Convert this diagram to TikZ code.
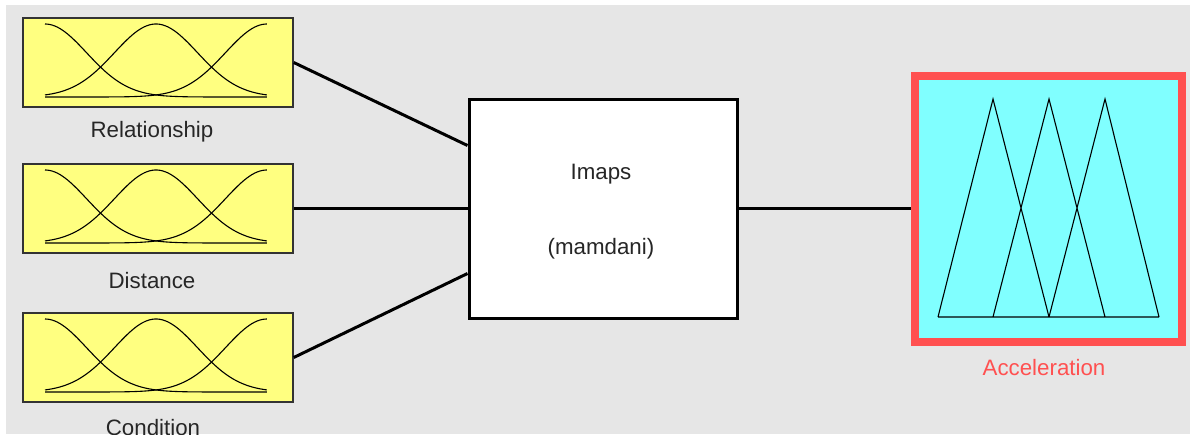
\documentclass[tikz,border=0pt]{standalone}
\usepackage{fontspec}
\setmainfont{Liberation Sans}
\definecolor{bgray}{HTML}{E6E6E6}
\definecolor{mfyellow}{HTML}{FFFF80}
\definecolor{mfcyan}{HTML}{80FFFF}
\definecolor{mfred}{HTML}{FF5050}
\newcommand\gaussmfs[1]{%
  \foreach \c in {0,0.5,1}
    \draw[mfline] plot[domain=0:1,samples=90,smooth]
      ({45+222*\x},{#1+79-73*exp(-((\x-\c)*(\x-\c))/0.0701)});%
}
\begin{document}
\begin{tikzpicture}[x=1pt,y=-1pt,
  inbox/.style={draw=black!80, line width=1.5pt, fill=mfyellow,
    minimum width=270pt, minimum height=89pt, inner sep=0pt},
  fisbox/.style={draw=black, line width=3pt, fill=white,
    minimum width=268pt, minimum height=219pt, inner sep=0pt},
  outbox/.style={draw=mfred, line width=8pt, fill=mfcyan,
    minimum width=267pt, minimum height=266pt, inner sep=0pt},
  mfline/.style={black, line width=1.1pt},
  conn/.style={black, line width=3pt},
  lbl/.style={font=\fontsize{22.3}{26}\selectfont, inner sep=0pt, anchor=base, text=black!85}]
  \useasboundingbox (0,0) rectangle (1190,434);
  \fill[white] (0,0) rectangle (1190,434);
  \fill[bgray] (6,5) rectangle (1190,434);

  % input boxes
  \node[inbox] (rel)  at (158,62.5)  {};
  \node[inbox] (dist) at (158,208.5) {};
  \node[inbox] (cond) at (158,357.5) {};
  \gaussmfs{18}
  \gaussmfs{164}
  \gaussmfs{313}
  \node[lbl] (lrel)  at (152,137) {Relationship};
  \node[lbl] (ldist) at (152,288) {Distance};
  \node[lbl] (lcond) at (153,435) {Condition};

  % FIS box
  \node[fisbox] (imaps) at (603,208.5) {};
  \node[lbl] (fisname) at (601,179) {Imaps};
  \node[lbl] (fistype) at (601,254) {(mamdani)};

  % output box
  \node[outbox] (acc) at (1048.5,208.5) {};
  \draw[mfline] (938,317) -- (993,99) -- (1049,317)
                (993,317) -- (1049,99) -- (1105,317)
                (1049,317) -- (1105,99) -- (1159,317)
                (938,317) -- (1159,317);
  \node[lbl, text=mfred] (lacc) at (1044,375) {Acceleration};

  % connectors
  \draw[conn] (rel.east) -- ([yshift=63pt]imaps.west);
  \draw[conn] (dist.east) -- (imaps.west);
  \draw[conn] (cond.east) -- ([yshift=-65pt]imaps.west);
  \draw[conn] (imaps.east) -- (acc.west);
\end{tikzpicture}
\end{document}
